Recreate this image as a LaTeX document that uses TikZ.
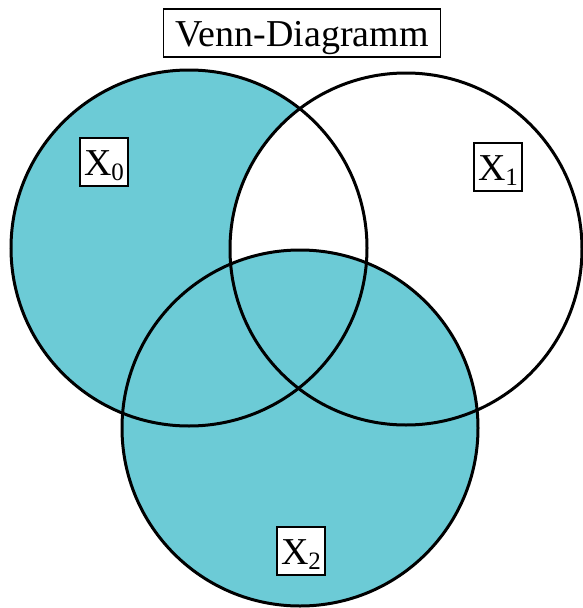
\documentclass[tikz,border=0pt]{standalone}
\usepackage{fontspec}
\setmainfont{Liberation Serif}
\definecolor{vennfill}{RGB}{108, 203, 214}
\newcommand{\setname}[1]{X\raisebox{-5pt}{\fontsize{25}{25}\selectfont #1}}
\tikzset{
  setbox/.style={draw, fill=white, line width=1.4pt, inner xsep=3pt, inner ysep=3pt,
    text height=34pt, text depth=8pt, minimum width=48pt},
  setline/.style={line width=3pt}
}

\begin{document}
\begin{tikzpicture}[x=1pt, y=-1pt, font=\fontsize{38}{40}\selectfont]
  \useasboundingbox (0,0) rectangle (583,608);
  \coordinate (c0) at (189,248);
  \coordinate (c1) at (406,249);
  \coordinate (c2) at (300,428);
  \fill[vennfill] (c0) circle (178pt) (c2) circle (178pt);
  \begin{scope}
    \clip (c0) circle (178pt);
    \fill[white] (c1) circle (176pt);
  \end{scope}
  \fill[vennfill] (c2) circle (178pt);
  \draw[setline] (c0) circle (178pt);
  \draw[setline] (c1) circle (176pt);
  \draw[setline] (c2) circle (178pt);
  \node[setbox, inner xsep=12pt] (title) at (302,33) {Venn-Diagramm};
  \node[setbox] (x0) at (104,162) {\setname{0}};
  \node[setbox] (x1) at (498,167) {\setname{1}};
  \node[setbox] (x2) at (301,551) {\setname{2}};
\end{tikzpicture}
\end{document}
